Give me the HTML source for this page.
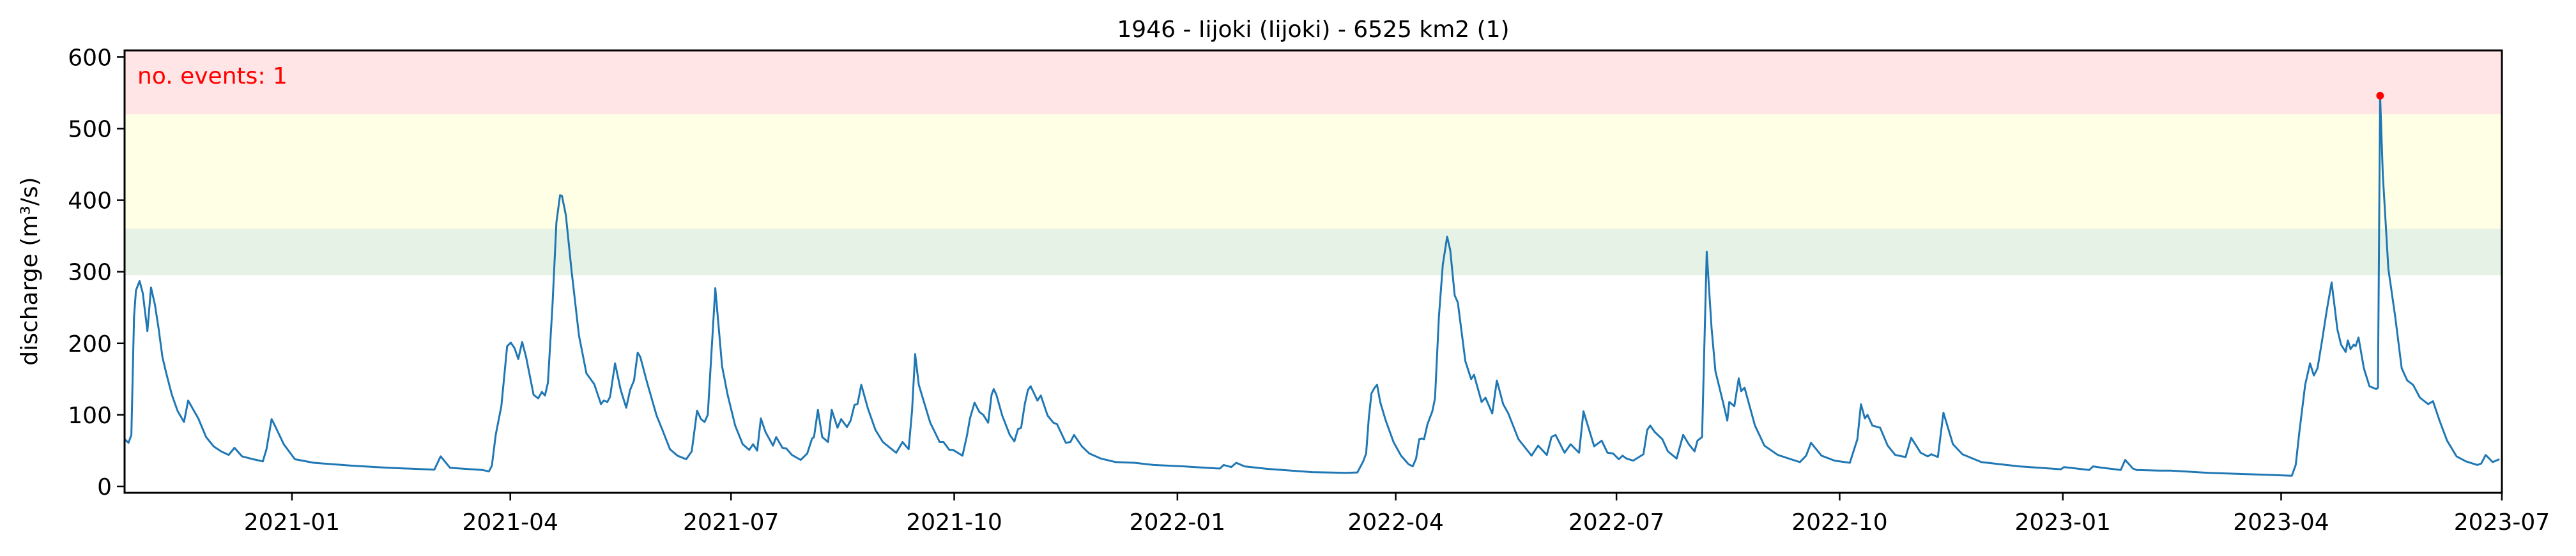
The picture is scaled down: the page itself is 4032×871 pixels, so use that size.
<!DOCTYPE html>
<html><head><meta charset="utf-8"><style>
html,body{margin:0;padding:0;background:#fff;}
svg{display:block;font-family:"DejaVu Sans","Liberation Sans",sans-serif;}
</style></head><body>
<svg id="chart" width="4032" height="871" viewBox="0 0 4032 871"></svg>
<script>
// days since 2020-10-24
const dayIndex=[0,1.6,2.8,3.9,4.7,6.2,7.5,9.4,10.9,12.5,14,15.6,17.2,19.5,21.9,24.5,26.2,30.4,33.6,36.7,39.8,42.9,45.3,48.4,53,57,58.5,60.6,62.4,65.6,70.2,78,93.7,109,127.7,130.3,134.2,147.5,150.2,151.4,153,155.3,157.7,159.2,160.8,162.3,163.9,165.5,168.6,170.5,172,173.3,174.5,176.4,178,179.5,180.3,181.9,184.2,187.3,190.4,193.6,196.4,197.5,199,200.1,202.2,204.5,206.8,208.4,210,211.5,212.6,215.4,219.3,221.7,224.8,227.9,231.5,233.8,236,237.6,239.1,240.4,243.5,
246.3,248.6,251.7,254.8,257.5,259.1,260.8,262.3,264.2,267.3,268.6,271.2,272.8,275.1,278.7,281.4,283.4,284.2,285.8,287.6,290,291.5,293.9,295.4,297.8,299.3,300.9,302.1,303.7,306.4,309.5,312.6,318.1,320.7,323.2,324.6,325.9,327.4,332.1,336,337.6,340,341.5,345.4,347.3,348.5,350.4,352.4,354,356,357.4,358.3,359.4,361.8,364.9,366.8,368.3,369.6,371.1,372.4,373.5,376.3,377.7,380.5,382.9,384.4,388,389.9,391.4,394.6,397.7,402.4,408.6,416.4,424.2,436.7,446.1,451.5,453.1,456.2,458.3,461.7,471.1,489.5,
503.5,508.2,510.6,511.8,512.9,514,515.3,516.3,517.6,519.9,523.1,526.2,529.3,531,532.4,533.7,534.8,535.7,537.1,539.1,540.2,541.8,543.4,545.2,546.5,548.3,549.6,552.7,555.1,556.3,559.4,561,563.8,565.7,568.3,570.4,574.6,580,582.7,586.3,588.2,589.9,593.6,596.1,599.6,601.4,605.8,608.9,611.3,613.6,616,617.5,619.1,621.9,626.1,627.7,628.9,630.8,633.9,636.2,639.8,642.5,644.8,647.2,648.4,650.3,652.2,654.2,655.8,658.9,660.7,661.5,663.6,665.4,666.4,667.8,672.1,676,681.5,690.6,693.2,695.2,699.5,704.9,711.2,714.3,715.8,717.4,718.5,720.5,723.7,726.8,729.9,
734.2,736.5,740.4,743.3,744.8,747.5,749.8,753.7,757.6,765.4,781,798.2,799.5,809.9,811.5,815.4,822.9,824.7,827.9,829.4,838.8,843.5,859.1,893.4,895,896.5,898.9,900.9,902.5,904,905.9,907.8,909.8,912.2,913.7,915.6,916.5,917.6,918.9,919.7,920.9,923.1,925.4,928.2,928.9,929.8,930.9,933.2,936,938.7,941,943.4,946.2,949.6,951.6,954.3,957.4,961.3,965.2,969.9,971.5,973.3,976.2,979];
const discharge=[66,61,72,237,274,287,270,217,278,254,221,181,158,128,105,90,120,95,69,56,49,44,54,42,38,35,52,94,82,59,38,33,29,26,23.5,42,26,23,21,29,72,112,196,201,193,178,202,181,128,123,132,127,145,254,369,407,406,379,303,211,158,143,115,120,118,125,172,135,110,135,148,187,181,145,99,79,52,43,38,49,106,94,90,100,277,
168,128,85,59,51,59,50,95,76,57,69,54,53,44,37,46,67,69,107,69,62,107,82,94,83,92,114,115,142,109,79,62,47,62,52,105,185,142,89,62,62,51,51,43,72,95,117,104,100,89,128,136,128,99,72,63,80,82,115,135,140,120,127,99,89,87,61,62,72,56,46,39,34,33,30,28,26,25,30,27,33,28,24.5,20,
19,19.5,35,46,95,130,138,142,118,92,62,43,31,28,39,66,67,66,87,105,123,237,310,349,330,267,257,175,150,156,118,124,102,148,115,102,66,43,57,44,69,72,47,59,47,105,56,64,47,46,38,43,39,36,45,79,85,76,66,49,39,72,59,49,64,69,328,221,161,118,92,118,112,151,133,138,85,57,44,34,43,61,43,36,33,66,115,95,100,85,82,57,44,
41,68,47,42,45,41,103,59,45,34,28,24,27,23,28,26,23,37,25,23,22,22,19,15,30,76,142,172,155,165,204,246,285,219,198,188,204,192,198,196,208,165,140,136,138,546,436,304,238,165,148,142,124,115,119,92,64,42,35,30,32,44,34,38];
const tickLabels=["2021-01","2021-04","2021-07","2021-10","2022-01","2022-04","2022-07","2022-10","2023-01","2023-04","2023-07"];
const tickDays=[69,159,250,342,434,524,615,707,799,889,980];
const yTicks=[0,100,200,300,400,500,600];
const bandLows=[295,360,520];
const bandHighs=[360,520,700];
const bandColors=["#e5f2e5","#ffffe5","#ffe5e5"];
const eventDays=[929.8];
const eventValues=[546];

const NS="http://www.w3.org/2000/svg";
const svg=document.getElementById('chart');
const L=195,R=3916,T=79,B=772;
const X=d=>L+(d-0)*(R-L)/980;
const Y=v=>762-v*1.121;
function mk(tag,attrs,parent){const e=document.createElementNS(NS,tag);for(const k in attrs)e.setAttribute(k,attrs[k]);(parent||svg).appendChild(e);return e;}

const defs=mk('defs',{});
const cp=mk('clipPath',{id:'clip'},defs);
mk('rect',{x:L,y:T,width:R-L,height:B-T},cp);

const bands=mk('g',{'clip-path':'url(#clip)'});


for(let i=0;i<bandLows.length;i++){
  const r=mk('rect',{x:L,y:Y(bandHighs[i]),width:R-L,height:Y(bandLows[i])-Y(bandHighs[i]),fill:bandColors[i]},bands);
  
  
}

let dstr='';
for(let i=0;i<dayIndex.length;i++){dstr+=(i?'L':'M')+X(dayIndex[i]).toFixed(1)+' '+Y(discharge[i]).toFixed(1);}
const line=mk('path',{d:dstr,fill:'none',stroke:'#1f77b4','stroke-width':3,'stroke-linejoin':'round','clip-path':'url(#clip)'});



for(let i=0;i<eventDays.length;i++){
  const c=mk('circle',{cx:X(eventDays[i]),cy:Y(eventValues[i]),r:6,fill:'#ff0000'});
  
  
}

const frame=mk('rect',{x:L,y:T,width:R-L,height:B-T,fill:'none',stroke:'#000','stroke-width':3});



for(let i=0;i<yTicks.length;i++){
  const y=Y(yTicks[i]);
  const t=mk('line',{x1:L-12,x2:L,y1:y,y2:y,stroke:'#000','stroke-width':2.5});
  
  
  const tx=mk('text',{x:L-20,y:y+13,'text-anchor':'end','font-size':36,fill:'#000'});
  tx.textContent=yTicks[i];
  
  
}
for(let i=0;i<tickDays.length;i++){
  const x=X(tickDays[i]);
  const t=mk('line',{x1:x,x2:x,y1:B,y2:B+12,stroke:'#000','stroke-width':2.5});
  
  
  const tx=mk('text',{x:x,y:B+58,'text-anchor':'middle','font-size':36,fill:'#000'});
  tx.textContent=tickLabels[i];
  
  
}
const title=mk('text',{x:(L+R)/2,y:58,'text-anchor':'middle','font-size':36,fill:'#000'});
title.textContent='1946 - Iijoki (Iijoki) - 6525 km2 (1)';


const yl=mk('text',{x:0,y:0,'text-anchor':'middle','font-size':36,fill:'#000',transform:'translate(58,425) rotate(-90)'});
yl.textContent='discharge (m³/s)';


const ev=mk('text',{x:L+20,y:131,'font-size':36,fill:'#ff0000'});
ev.textContent='no. events: 1';


</script>
</body></html>
